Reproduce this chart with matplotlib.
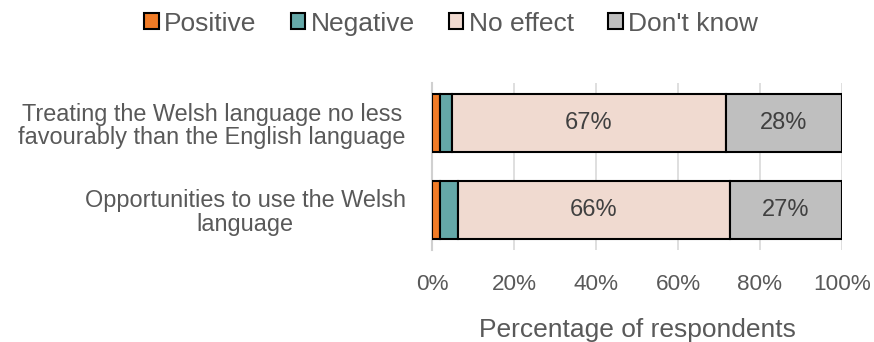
import numpy as np
from matplotlib import pyplot as plt

# Data
categories = ["Treating the Welsh language no less\nfavourably than the English language",
              "Opportunities to use the Welsh\nlanguage"]
series_names = ["Positive", "Negative", "No effect", "Don't know"]
positive = [2.0, 2.0]
negative = [2.8, 4.3]
no_effect = [66.8, 66.4]
dont_know = [28.4, 27.3]
series_colors = ["#F07B26", "#65A8A8", "#F0DAD0", "#BFBFBF"]
labelled = [False, False, True, True]

plt.rcParams['font.family'] = ['Liberation Sans', 'DejaVu Sans']

fig = plt.figure(figsize=(8.74, 3.42), dpi=100)
ax = fig.add_axes([432 / 874, 1 - 250 / 342, 410 / 874, 167 / 342])

y = np.arange(len(categories))
left = np.zeros(len(categories))
for name, vals, color, lab in zip(series_names, [positive, negative, no_effect, dont_know],
                                  series_colors, labelled):
    vals = np.array(vals)
    ax.barh(y, vals, left=left, height=0.67, color=color, edgecolor="black",
            linewidth=1.5, label=name, zorder=3)
    if lab:
        for yi, l, v in zip(y, left, vals):
            ax.text(l + v / 2, yi, f"{v:.0f}%", ha="center", va="center",
                    fontsize=17, color="#404040", zorder=4)
    left += vals

# Axes styling
ax.set_xlim(0, 100)
ax.set_ylim(1.46, -0.46)
ax.set_yticks(y)
ax.set_yticklabels(categories, fontsize=16.9, color="#595959", ha="right",
                   multialignment="center", linespacing=1.05)
ax.set_xticks(np.arange(0, 101, 20))
ax.set_xticklabels([f"{t}%" for t in range(0, 101, 20)], fontsize=16.2, color="#595959")
ax.tick_params(axis="y", length=0, pad=19)
ax.tick_params(axis="x", length=0, pad=17.5)
ax.grid(axis="x", color="#D9D9D9", linewidth=1.2, zorder=0)
for side in ["top", "right", "bottom"]:
    ax.spines[side].set_visible(False)
ax.spines["left"].set_color("#D0D0D0")
ax.spines["left"].set_linewidth(1.5)
ax.set_xlabel("Percentage of respondents", fontsize=19, color="#595959", labelpad=16)

fig.legend(loc="upper center", bbox_to_anchor=(451 / 874, 1.035), ncol=4, frameon=False,
           fontsize=19, handlelength=0.55, handleheight=0.55, handletextpad=0.2,
           columnspacing=1.3, labelcolor="#595959")

fig.savefig("out.png", dpi=100)
